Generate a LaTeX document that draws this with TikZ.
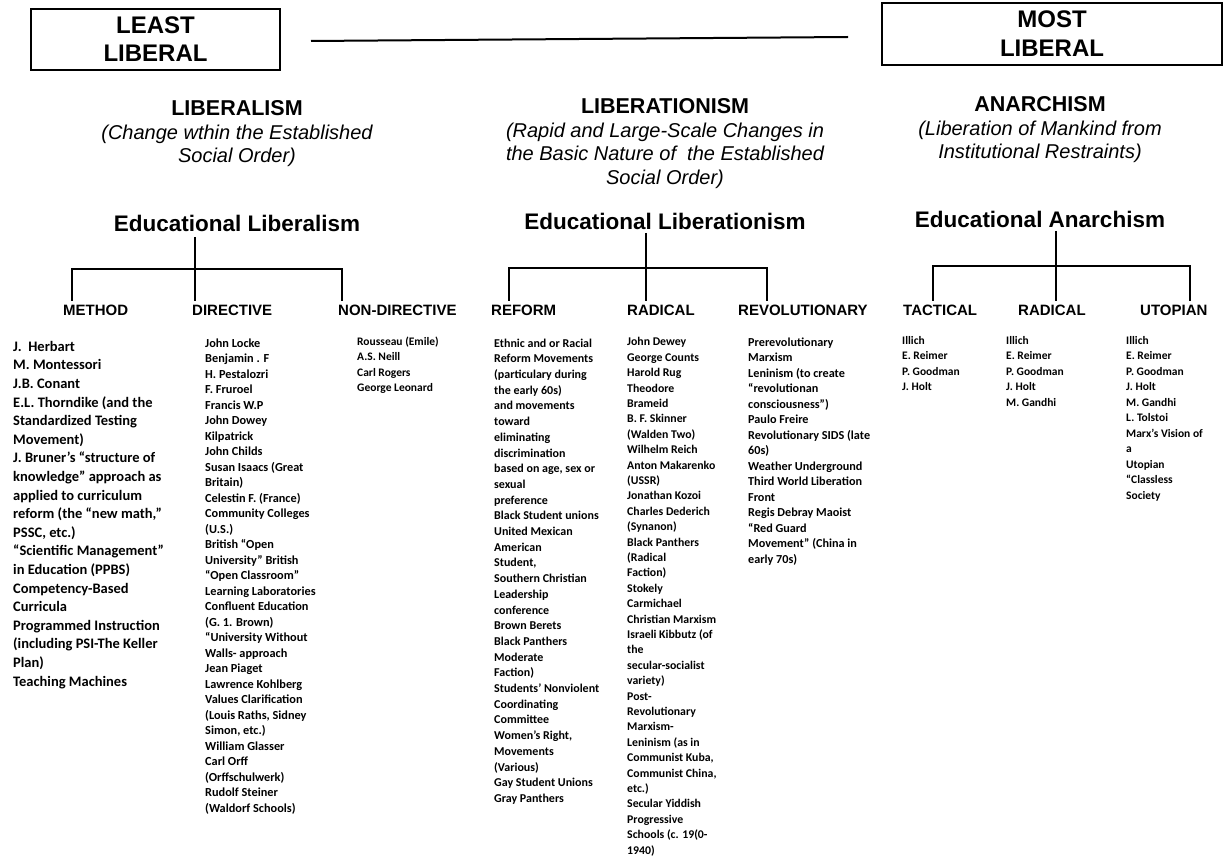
\documentclass[tikz,border=0pt]{standalone}
\usepackage{fontspec}
\setmainfont{Liberation Sans}
\newfontfamily\calfont{Carlito}
\begin{document}
\begin{tikzpicture}[x=1pt,y=-1pt,
  box/.style={draw, line width=1.4pt, align=center, inner sep=0,
    font=\bfseries\fontsize{24}{28}\selectfont},
  ttl/.style={font=\bfseries\fontsize{21.5}{24}\selectfont, inner sep=0},
  sub/.style={font=\itshape\fontsize{20}{23.5}\selectfont, align=center, inner sep=0, anchor=north},
  edu/.style={font=\bfseries\fontsize{22.5}{26}\selectfont, inner sep=0},
  hdr/.style={font=\bfseries\fontsize{15}{18}\selectfont, inner sep=0, anchor=base west},
  col/.style={anchor=north west, inner sep=0, align=left},
  ln/.style={line width=1.3pt}]
\useasboundingbox (0,0) rectangle (1227,861);

% top boxes
\node[box, minimum width=249pt, minimum height=61pt] (least) at (155.5,39.5) {LEAST\\LIBERAL};
\node[box, minimum width=340pt, minimum height=62pt, font=\bfseries\fontsize{24}{29}\selectfont] (most) at (1052,34) {MOST\\LIBERAL};
\coordinate (la) at (311,41);
\coordinate (lb) at (848,37);
\draw[line width=2pt] (la) -- (lb);

% titles
\node[ttl] (lib) at (237,108) {LIBERALISM};
\node[sub] (libs) at (237,122.5) {\strut(Change wthin the Established\\Social Order)};
\node[edu] (edlib) at (237,223) {Educational Liberalism};

\node[ttl] (ltn) at (665,106) {LIBERATIONISM};
\node[sub] (ltns) at (665,120.5) {\strut(Rapid and Large-Scale Changes in\\the Basic Nature of\ \ the Established\\Social Order)};
\node[edu] (edltn) at (665,221) {Educational Liberationism};

\node[ttl] (ana) at (1040,104) {ANARCHISM};
\node[sub] (anas) at (1040,118.5) {\strut(Liberation of Mankind from\\Institutional Restraints)};
\node[edu] (edana) at (1040,219) {Educational Anarchism};

% headers
\node[hdr] (h1) at (63,316) {METHOD};
\node[hdr] (h2) at (192,316) {DIRECTIVE};
\node[hdr] (h3) at (338,316) {NON-DIRECTIVE};
\node[hdr] (h4) at (491,316) {REFORM};
\node[hdr] (h5) at (627,316) {RADICAL};
\node[hdr] (h6) at (738,316) {REVOLUTIONARY};
\node[hdr] (h7) at (903,316) {TACTICAL};
\node[hdr] (h8) at (1018,316) {RADICAL};
\node[hdr] (h9) at (1140,316) {UTOPIAN};

% tree: liberalism
\coordinate (a0) at (195,237);
\coordinate (a1) at (72,269);  \coordinate (a1b) at (72,301);
\coordinate (a2) at (195,269); \coordinate (a2b) at (195,301);
\coordinate (a3) at (342,269); \coordinate (a3b) at (342,301);
\draw[ln] (a0) -- (a2b);
\draw[ln] (a1b) -- (a1) -- (a3) -- (a3b);
% tree: liberationism
\coordinate (b0) at (646,233);
\coordinate (b1) at (509,268);  \coordinate (b1b) at (509,301);
\coordinate (b2) at (646,268);  \coordinate (b2b) at (646,301);
\coordinate (b3) at (767,268);  \coordinate (b3b) at (767,301);
\draw[ln] (b0) -- (b2b);
\draw[ln] (b1b) -- (b1) -- (b3) -- (b3b);
% tree: anarchism
\coordinate (c0) at (1056,231);
\coordinate (c1) at (933,266);  \coordinate (c1b) at (933,301);
\coordinate (c2) at (1056,266); \coordinate (c2b) at (1056,301);
\coordinate (c3) at (1190,266); \coordinate (c3b) at (1190,301);
\draw[ln] (c0) -- (c2b);
\draw[ln] (c1b) -- (c1) -- (c3) -- (c3b);

% columns
\node[col, font=\calfont\bfseries\fontsize{14.5}{18.6}\selectfont] (t1) at (13,338) {\strut
J.\ \ Herbart\\
M. Montessori\\
J.B. Conant\\
E.L. Thorndike (and the\\
Standardized Testing\\
Movement)\\
J. Bruner’s “structure of\\
knowledge” approach as\\
applied to curriculum\\
reform (the “new math,”\\
PSSC, etc.)\\
“Scientific Management”\\
in Education (PPBS)\\
Competency-Based\\
Curricula\\
Programmed Instruction\\
(including PSI-The Keller\\
Plan)\\
Teaching Machines};

\node[col, font=\calfont\bfseries\fontsize{12.3}{15.5}\selectfont] (t2) at (205,336) {\strut
John Locke\\
Benjamin . F\\
H. Pestalozri\\
F. Fruroel\\
Francis W.P\\
John Dowey\\
Kilpatrick\\
John Childs\\
Susan Isaacs (Great\\
Britain)\\
Celestin F. (France)\\
Community Colleges\\
(U.S.)\\
British “Open\\
University” British\\
“Open Classroom”\\
Learning Laboratories\\
Confluent Education\\
(G. 1. Brown)\\
“University Without\\
Walls- approach\\
Jean Piaget\\
Lawrence Kohlberg\\
Values Clarification\\
(Louis Raths, Sidney\\
Simon, etc.)\\
William Glasser\\
Carl Orff\\
(Orffschulwerk)\\
Rudolf Steiner\\
(Waldorf Schools)};

\node[col, font=\calfont\bfseries\fontsize{11.5}{15.5}\selectfont] (t3) at (357,334) {\strut
Rousseau (Emile)\\
A.S. Neill\\
Carl Rogers\\
George Leonard};

\node[col, font=\calfont\bfseries\fontsize{12}{15.7}\selectfont] (t4) at (494,336) {\strut
Ethnic and or Racial\\
Reform Movements\\
(particulary during\\
the early 60s)\\
and movements\\
toward\\
eliminating\\
discrimination\\
based on age, sex or\\
sexual\\
preference\\
Black Student unions\\
United Mexican\\
American\\
Student,\\
Southern Christian\\
Leadership\\
conference\\
Brown Berets\\
Black Panthers\\
Moderate\\
Faction)\\
Students’ Nonviolent\\
Coordinating\\
Committee\\
Women’s Right,\\
Movements\\
(Various)\\
Gay Student Unions\\
Gray Panthers};

\node[col, font=\calfont\bfseries\fontsize{11.8}{15.4}\selectfont] (t5) at (627,335) {\strut
John Dewey\\
George Counts\\
Harold Rug\\
Theodore\\
Brameid\\
B. F. Skinner\\
(Walden Two)\\
Wilhelm Reich\\
Anton Makarenko\\
(USSR)\\
Jonathan Kozoi\\
Charles Dederich\\
(Synanon)\\
Black Panthers\\
(Radical\\
Faction)\\
Stokely\\
Carmichael\\
Christian Marxism\\
Israeli Kibbutz (of\\
the\\
secular-socialist\\
variety)\\
Post-\\
Revolutionary\\
Marxism-\\
Leninism (as in\\
Communist Kuba,\\
Communist China,\\
etc.)\\
Secular Yiddish\\
Progressive\\
Schools (c. 19(0-\\
1940)};

\node[col, font=\calfont\bfseries\fontsize{12.2}{15.5}\selectfont] (t6) at (748,335) {\strut
Prerevolutionary\\
Marxism\\
Leninism (to create\\
“revolutionan\\
consciousness”)\\
Paulo Freire\\
Revolutionary SIDS (late\\
60s)\\
Weather Underground\\
Third World Liberation\\
Front\\
Regis Debray Maoist\\
“Red Guard\\
Movement” (China in\\
early 70s)};

\node[col, font=\calfont\bfseries\fontsize{11.5}{15.5}\selectfont] (t7) at (902,333) {\strut
Illich\\
E. Reimer\\
P. Goodman\\
J. Holt};

\node[col, font=\calfont\bfseries\fontsize{11.5}{15.5}\selectfont] (t8) at (1006,333) {\strut
Illich\\
E. Reimer\\
P. Goodman\\
J. Holt\\
M. Gandhi};

\node[col, font=\calfont\bfseries\fontsize{11.5}{15.5}\selectfont] (t9) at (1126,333) {\strut
Illich\\
E. Reimer\\
P. Goodman\\
J. Holt\\
M. Gandhi\\
L. Tolstoi\\
Marx’s Vision of\\
a\\
Utopian\\
“Classless\\
Society};
\end{tikzpicture}
\end{document}
